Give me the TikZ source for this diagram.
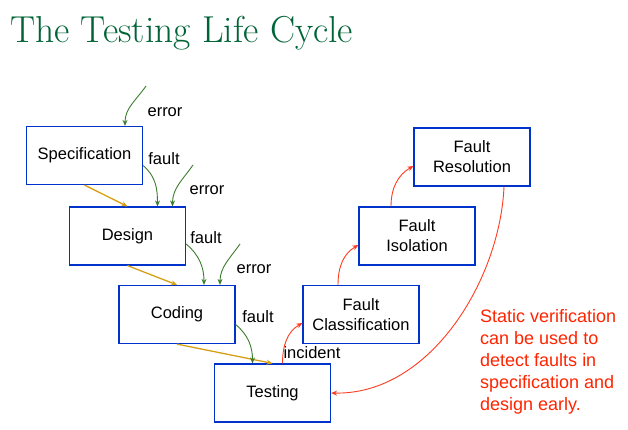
\documentclass[tikz,border=0pt]{standalone}
\usepackage{fontspec}
\newfontfamily\arial{Liberation Sans}
\usetikzlibrary{arrows.meta}
\definecolor{boxblue}{RGB}{0,51,204}
\definecolor{errgreen}{RGB}{60,125,45}
\definecolor{flowgold}{RGB}{214,160,20}
\definecolor{fixred}{RGB}{255,60,30}
\definecolor{notered}{RGB}{255,36,0}
\definecolor{titlegreen}{RGB}{0,100,55}
\tikzset{
  stage/.style={draw=boxblue, line width=1.2pt, minimum width=116pt, minimum height=58pt,
    inner sep=0pt, align=center, font=\arial\fontsize{16.5}{20}\selectfont},
  lbl/.style={font=\arial\fontsize{16.5}{18}\selectfont, inner sep=0pt},
  tip/.style={-{Stealth[length=6pt,width=5pt]}},
  errarrow/.style={tip, draw=errgreen, line width=0.9pt},
  flowarrow/.style={tip, draw=flowgold, line width=1.3pt},
  fixarrow/.style={tip, draw=fixred, line width=0.9pt},
}
\begin{document}
\begin{tikzpicture}[x=1pt,y=-1pt]
  \useasboundingbox[fill=white] (0,0) rectangle (628,430);

  % title
  \node[anchor=base west, inner sep=0pt, text=titlegreen, font=\fontsize{37.5}{42}\selectfont]
    (title) at (10,43) {The Testing Life Cycle};

  % development stages
  \node[stage] (spec)   at (84.5,155.5) {Specification};
  \node[stage] (design) at (127.5,236)  {Design};
  \node[stage] (coding) at (177,314.5)  {Coding};
  \node[stage] (test)   at (272.5,393)  {Testing};

  % fault handling stages
  \node[stage] (class) at (361,314.5) {Fault\\Classification};
  \node[stage] (iso)   at (417,236)   {Fault\\Isolation};
  \node[stage] (res)   at (472,157)   {Fault\\Resolution};

  % sources of incoming errors
  \coordinate (e1) at (146,86);
  \coordinate (e2) at (193,165);
  \coordinate (e3) at (240,244);

  % labels
  \node[lbl] (le1) at (165,112) {error};
  \node[lbl] (lf1) at (164,159) {fault};
  \node[lbl] (le2) at (207,190) {error};
  \node[lbl] (lf2) at (206,238) {fault};
  \node[lbl] (le3) at (254,269) {error};
  \node[lbl] (lf3) at (258,317) {fault};
  \node[lbl] (linc) at (312,353) {incident};

  % flow between stages
  \draw[flowarrow] (spec.south) -- (design.north);
  \draw[flowarrow] (design.south) -- (coding.north);
  \draw[flowarrow] (coding.south) -- (test.north);

  % errors and faults entering each stage
  \draw[errarrow] (e1) to[out=-125,in=90] ([xshift=40.5]spec.north);
  \draw[errarrow] ([yshift=-10]spec.east) to[out=-40,in=90] ([xshift=30]design.north);
  \draw[errarrow] (e2) to[out=-125,in=90] ([xshift=45]design.north);
  \draw[errarrow] ([yshift=-8]design.east) to[out=-40,in=90] ([xshift=27]coding.north);
  \draw[errarrow] (e3) to[out=-125,in=90] ([xshift=43]coding.north);
  \draw[errarrow] ([yshift=-10]coding.east) to[out=-40,in=90] ([xshift=-20]test.north);

  % fault handling loop
  \draw[fixarrow] ([xshift=10]test.north) to[out=90,in=210] ([yshift=-8.5]class.west);
  \draw[fixarrow] ([xshift=-23]class.north) to[out=90,in=210] ([yshift=-9]iso.west);
  \draw[fixarrow] ([xshift=-26]iso.north) to[out=90,in=210] ([yshift=-9]res.west);
  \draw[fixarrow] ([xshift=32]res.south) .. controls (500,280) and (430,395) .. (test.east);

  % note
  \node[anchor=north west, inner sep=0pt, align=left, text=notered,
        font=\arial\fontsize{18}{22}\selectfont] (note) at (480,309)
    {Static verification\\can be used to\\detect faults in\\specification and\\design early.};
\end{tikzpicture}
\end{document}
